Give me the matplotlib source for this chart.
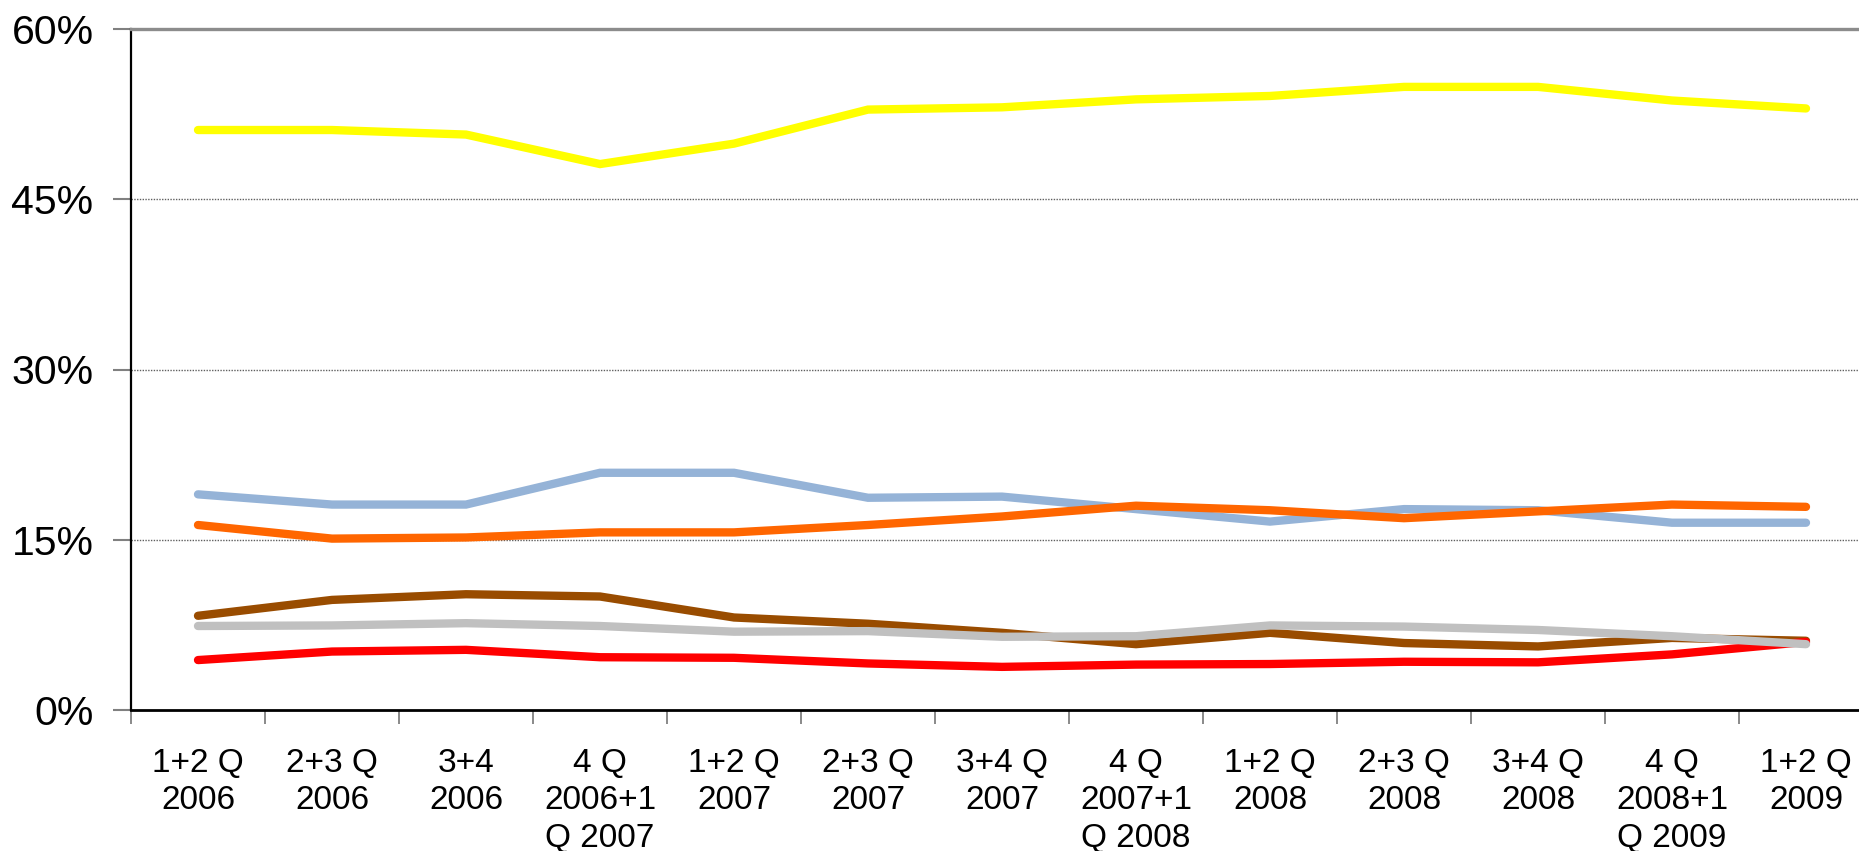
import matplotlib
import numpy as np

matplotlib.use("Agg")

import matplotlib.pyplot as plt
from matplotlib.ticker import FixedLocator

plt.rcParams["font.family"] = ["Liberation Sans", "DejaVu Sans"]

periods = [
    "1+2 Q\n2006", "2+3 Q\n2006", "3+4\n2006", "4 Q\n2006+1\nQ 2007",
    "1+2 Q\n2007", "2+3 Q\n2007", "3+4 Q\n2007", "4 Q\n2007+1\nQ 2008",
    "1+2 Q\n2008", "2+3 Q\n2008", "3+4 Q\n2008", "4 Q\n2008+1\nQ 2009",
    "1+2 Q\n2009",
]

yellow = [51.1, 51.1, 50.7, 48.1, 49.9, 52.9, 53.1, 53.8, 54.1, 54.9, 54.9, 53.7, 53.0]
blue = [19.0, 18.1, 18.1, 20.9, 20.9, 18.7, 18.8, 17.7, 16.6, 17.7, 17.6, 16.5, 16.5]
orange = [16.3, 15.1, 15.2, 15.65, 15.65, 16.3, 17.05, 18.0, 17.6, 16.9, 17.5, 18.1, 17.9]
brown = [8.3, 9.7, 10.2, 10.0, 8.15, 7.6, 6.8, 5.8, 6.8, 5.9, 5.6, 6.35, 6.1]
red = [4.4, 5.15, 5.3, 4.65, 4.6, 4.1, 3.8, 4.0, 4.05, 4.25, 4.2, 4.9, 6.0]
gray = [7.4, 7.45, 7.65, 7.4, 6.9, 6.95, 6.45, 6.5, 7.45, 7.35, 7.05, 6.5, 5.8]

series = [
    (yellow, "#ffff00"),
    (blue, "#95b3d7"),
    (orange, "#ff6600"),
    (brown, "#994c00"),
    (red, "#ff0000"),
    (gray, "#c0c0c0"),
]

fig = plt.figure(figsize=(18.59, 8.51), dpi=100)
fig.patch.set_facecolor("white")
ax = fig.add_axes([131 / 1859, 141 / 851, 1742 / 1859, 681 / 851])

x = np.arange(len(periods))
for values, color in series:
    ax.plot(x, values, color=color, linewidth=6.0, solid_capstyle="round",
            solid_joinstyle="miter", zorder=3)

ax.set_xlim(-0.5, len(periods) - 0.5)
ax.set_ylim(0, 60)

for level in [15, 30, 45]:
    ax.axhline(level, color="#606060", linewidth=1.0, linestyle=(0, (1, 1)), zorder=1)

ax.spines["right"].set_visible(False)
ax.spines["top"].set_color("#8c8c8c")
ax.spines["top"].set_linewidth(2.4)
ax.spines["left"].set_color("#000000")
ax.spines["left"].set_linewidth(1.6)
ax.spines["bottom"].set_color("#000000")
ax.spines["bottom"].set_linewidth(2.0)

ax.set_yticks([0, 15, 30, 45, 60])
ax.set_yticklabels(["0%", "15%", "30%", "45%", "60%"], fontsize=29.5)
ax.tick_params(axis="y", length=13, width=1.5, color="#808080", pad=14)

ax.set_xticks(x)
ax.set_xticklabels(periods, fontsize=24, linespacing=1.28)
ax.tick_params(axis="x", which="major", length=0, pad=27)
ax.xaxis.set_minor_locator(FixedLocator(np.arange(-0.5, len(periods), 1.0)))
ax.tick_params(axis="x", which="minor", length=10, width=1.3, color="#808080")

fig.savefig("out.png", dpi=100)
plt.close(fig)
